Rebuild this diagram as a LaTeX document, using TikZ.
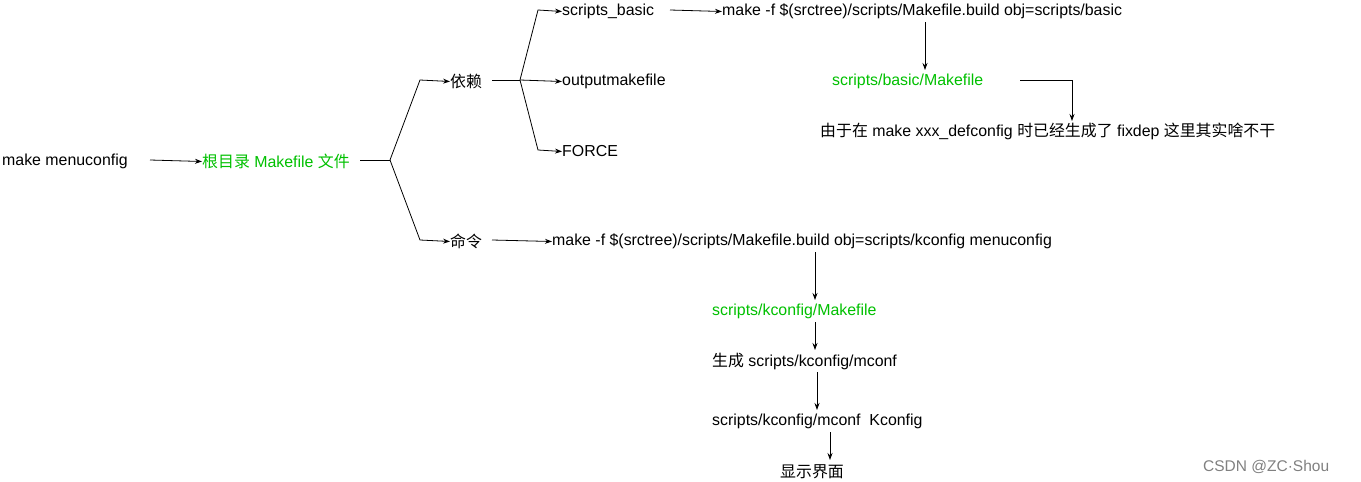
\documentclass[tikz,border=0pt]{standalone}
\usepackage{fontspec}
\setmainfont{Liberation Sans}
\newfontfamily\cjk{Noto Sans CJK SC}
\usetikzlibrary{arrows.meta}
\definecolor{grn}{HTML}{00C000}
\begin{document}
\begin{tikzpicture}[x=1pt,y=-1pt,
  t/.style={anchor=west,inner sep=0pt,yshift=-1.5pt,font=\fontsize{15.9}{18}\selectfont},
  g/.style={t,text=grn},
  a/.style={-{Stealth[length=7pt,width=5pt]},line width=0.8pt},
  l/.style={line width=0.8pt}]
\useasboundingbox (0,0) rectangle (1361,482);
\node[t] (mm) at (2,160) {make menuconfig};
\node[g] (root) at (202,160) {{\cjk 根目录} Makefile {\cjk 文件}};
\node[t] (dep) at (450,80) {\cjk 依赖};
\node[t] (cmd) at (450,240) {\cjk 命令};
\node[t] (sb) at (562,10) {scripts\_basic};
\node[t] (om) at (562,80) {outputmakefile};
\node[t] (fo) at (562,150) {FORCE};
\node[t] (mk1) at (722,10) {make -f \$(srctree)/scripts/Makefile.build obj=scripts/basic};
\node[g] (bm) at (832,80) {scripts/basic/Makefile};
\node[t] (fx) at (820,130) {{\cjk 由于在} make xxx\_defconfig {\cjk 时已经生成了} fixdep {\cjk 这里其实啥不干}};
\node[t] (mk2) at (552,240) {make -f \$(srctree)/scripts/Makefile.build obj=scripts/kconfig menuconfig};
\node[g] (km) at (712,310) {scripts/kconfig/Makefile};
\node[t] (gen) at (712,360) {{\cjk 生成} scripts/kconfig/mconf};
\node[t] (run) at (712,420) {scripts/kconfig/mconf\ \ Kconfig};
\node[t] (ui) at (780,470) {\cjk 显示界面};
\node[t,text=gray,font=\fontsize{15.5}{18}\selectfont] (wm) at (1203,465) {CSDN @ZC·Shou};
\coordinate (b1) at (390,160);
\coordinate (b2) at (520,80);
\draw[a] (150,160) -- (root.west);
\draw[l] (360,160) -- (b1);
\draw[a] (b1) -- (420,80) -- (dep.west);
\draw[a] (b1) -- (420,240) -- (cmd.west);
\draw[l] (492,80) -- (b2);
\draw[a] (b2) -- (538,10) -- (sb.west);
\draw[a] (b2) -- (om.west);
\draw[a] (b2) -- (538,150) -- (fo.west);
\draw[a] (670,10) -- (mk1.west);
\draw[a] (925,22) -- (925,70);
\draw[a] (1020,80) -- (1072,80) -- (1072,121);
\draw[a] (492,240) -- (mk2.west);
\draw[a] (815,252) -- (815,300);
\draw[a] (815,322) -- (815,350);
\draw[a] (817,372) -- (817,410);
\draw[a] (830,432) -- (830,460);
\end{tikzpicture}
\end{document}
